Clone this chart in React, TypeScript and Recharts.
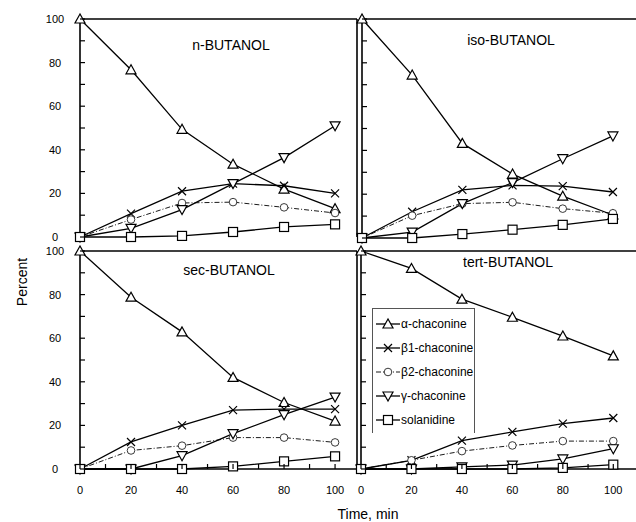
import React from 'react';
import { LineChart, Line, XAxis, YAxis, ReferenceLine, Legend } from 'recharts';

const times = [0, 20, 40, 60, 80, 100];
const axisTicks = [0, 10, 20, 30, 40, 50, 60, 70, 80, 90, 100];

// percent of each glycoside
const nButanol = {
  alpha: [100, 76.7, 49.4, 33.4, 22, 13],
  beta1: [0, 10.7, 21, 24.5, 23.5, 20],
  beta2: [0, 8, 15.6, 16, 13.6, 11],
  gamma: [0, 4, 12.6, 24.5, 36.4, 51],
  solanidine: [0, 0, 0.5, 2.3, 4.6, 5.8],
};
const isoButanol = {
  alpha: [100, 74.4, 43.2, 29.2, 19.1, 10.5],
  beta1: [0, 12, 22, 24, 23.7, 21],
  beta2: [0, 10.2, 15.7, 16.3, 13.4, 11.3],
  gamma: [0, 2.7, 15.7, 25.3, 36.2, 46.6],
  solanidine: [0, 0, 1.8, 3.8, 6, 8.7],
};
const secButanol = {
  alpha: [100, 78.8, 62.9, 42, 30.5, 22],
  beta1: [0, 12.4, 20, 27, 27.5, 27.5],
  beta2: [0, 8.5, 10.7, 14.4, 14.4, 12.2],
  gamma: [0, 0, 6.1, 16.2, 24.9, 33],
  solanidine: [0, 0, 0, 1.2, 3.5, 5.8],
};
const tertButanol = {
  alpha: [100, 92, 77.9, 69.6, 61, 51.9],
  beta1: [0, 4, 13, 17, 20.8, 23.4],
  beta2: [0, 4, 8.2, 10.8, 12.8, 12.8],
  gamma: [0, 0, 1, 1.8, 4.6, 9.3],
  solanidine: [0, 0, 0, 0, 0.5, 2],
};

const series = [
  { key: 'alpha', name: 'α-chaconine', marker: 'up' },
  { key: 'beta1', name: 'β1-chaconine', marker: 'cross' },
  { key: 'beta2', name: 'β2-chaconine', marker: 'circle' },
  { key: 'gamma', name: 'γ-chaconine', marker: 'down' },
  { key: 'solanidine', name: 'solanidine', marker: 'square' },
];

const toRows = (p: any) =>
  times.map((t, i) => {
    const row: any = { t };
    series.forEach((s) => (row[s.key] = p[s.key][i]));
    return row;
  });

const Marker = ({ kind, cx, cy }: any) => {
  const st = { fill: '#fff', stroke: '#000', strokeWidth: 1.2 };
  if (cx == null || cy == null) return null;
  switch (kind) {
    case 'up':
      return <polygon points={`${cx},${cy - 5} ${cx - 5},${cy + 4} ${cx + 5},${cy + 4}`} {...st} />;
    case 'down':
      return <polygon points={`${cx},${cy + 5} ${cx - 5},${cy - 4} ${cx + 5},${cy - 4}`} {...st} />;
    case 'circle':
      return <circle cx={cx} cy={cy} r={3.8} fill="#fff" stroke="#222" strokeWidth={0.9} />;
    case 'square':
      return <rect x={cx - 4.5} y={cy - 4.5} width={9} height={9} {...st} />;
    default:
      return (
        <path d={`M${cx - 4},${cy - 4}L${cx + 4},${cy + 4}M${cx - 4},${cy + 4}L${cx + 4},${cy - 4}`} stroke="#000" strokeWidth={1.2} />
      );
  }
};

const XTick = ({ x, y, payload, showLabel }: any) => (
  <g>
    <line x1={x} y1={y} x2={x} y2={y - 5} stroke="#000" strokeWidth={1.2} />
    {showLabel && payload.value % 20 === 0 && (
      <text x={x} y={y + 25} textAnchor="middle" fontSize={11} fill="#000">
        {payload.value}
      </text>
    )}
  </g>
);

const YTick = ({ x, y, payload, showLabel }: any) => (
  <g>
    <line x1={x} y1={y} x2={x + 5} y2={y} stroke="#000" strokeWidth={1.2} />
    {showLabel && payload.value % 20 === 0 && (
      <text x={x - 25} y={y + 4} textAnchor="middle" fontSize={11} fill="#000">
        {payload.value}
      </text>
    )}
  </g>
);

const LegendBox = () => (
  <div
    style={{
      width: 103,
      height: 125,
      boxSizing: 'border-box',
      border: '1px solid #555',
      borderBottom: 'none',
      paddingTop: 3,
      fontSize: 12,
      color: '#000',
      background: '#fff',
    }}
  >
    {series.map((s) => (
      <div key={s.key} style={{ display: 'flex', alignItems: 'center', height: 24 }}>
        <svg width={28} height={14}>
          <line
            x1={3}
            y1={7}
            x2={27}
            y2={7}
            stroke="#000"
            strokeWidth={s.marker === 'circle' ? 0.9 : 1.3}
            strokeDasharray={s.marker === 'circle' ? '5 2 1 2' : undefined}
          />
          <Marker kind={s.marker} cx={15} cy={7} />
        </svg>
        <span>{s.name}</span>
      </div>
    ))}
  </div>
);

const Panel = (props: any) => {
  const { left, top, width, height, margin, yAxisWidth, xAxisHeight, xMax, values, xLabels, yLabels, rightBorder, legend } = props;
  return (
    <div style={{ position: 'absolute', left, top }}>
      <LineChart width={width} height={height} data={toRows(values)} margin={margin}>
        <XAxis
          type="number"
          dataKey="t"
          domain={[0, xMax]}
          ticks={axisTicks}
          interval={0}
          height={xAxisHeight}
          tickSize={0}
          tickMargin={0}
          axisLine={{ stroke: '#000', strokeWidth: 1.6 }}
          tick={(p: any) => <XTick {...p} showLabel={xLabels} />}
        />
        <YAxis
          type="number"
          domain={[0, 100]}
          ticks={axisTicks}
          interval={0}
          width={yAxisWidth}
          tickSize={0}
          tickMargin={0}
          axisLine={{ stroke: '#000', strokeWidth: 1.6 }}
          tick={(p: any) => <YTick {...p} showLabel={yLabels} />}
        />
        <ReferenceLine y={100} stroke="#000" strokeWidth={1.6} />
        {rightBorder && <ReferenceLine x={xMax} stroke="#000" strokeWidth={1.6} />}
        {series.map((s) => (
          <Line
            key={s.key}
            type="linear"
            dataKey={s.key}
            name={s.name}
            stroke="#000"
            strokeWidth={s.marker === 'circle' ? 0.9 : 1.3}
            strokeDasharray={s.marker === 'circle' ? '5 2 1 2' : undefined}
            dot={(p: any) => <Marker key={`${s.key}-${p.index}`} kind={s.marker} cx={p.cx} cy={p.cy} />}
            activeDot={false}
            isAnimationActive={false}
          />
        ))}
        {legend && (
          <Legend
            layout="vertical"
            align="center"
            verticalAlign="middle"
            content={() => <LegendBox />}
            wrapperStyle={{ left: 32, top: 68, width: 103, height: 125 }}
          />
        )}
      </LineChart>
    </div>
  );
};

const titleStyle = (x: number, y: number): React.CSSProperties => ({
  position: 'absolute',
  left: x,
  top: y,
  transform: 'translate(-50%, -50%)',
  fontSize: 14,
  whiteSpace: 'nowrap',
});

export default function App() {
  return (
    <div
      style={{
        position: 'absolute',
        left: 0,
        top: 0,
        width: 636,
        height: 522,
        background: '#fff',
        overflow: 'hidden',
        fontFamily: '"Liberation Sans", Arial, sans-serif',
        color: '#000',
      }}
    >
      <Panel
        left={0}
        top={0}
        width={360}
        height={250}
        margin={{ top: 19, right: 3, bottom: 13, left: 0 }}
        yAxisWidth={80}
        xAxisHeight={0}
        xMax={108.6}
        values={nButanol}
        xLabels={false}
        yLabels
        rightBorder
      />
      <Panel
        left={340}
        top={0}
        width={296}
        height={250}
        margin={{ top: 19, right: 0, bottom: 12, left: 0 }}
        yAxisWidth={22}
        xAxisHeight={0}
        xMax={109.2}
        values={isoButanol}
        xLabels={false}
        yLabels={false}
      />
      <Panel
        left={0}
        top={240}
        width={360}
        height={270}
        margin={{ top: 11, right: 3, bottom: 0, left: 0 }}
        yAxisWidth={80}
        xAxisHeight={41}
        xMax={108.6}
        values={secButanol}
        xLabels
        yLabels
        rightBorder
      />
      <Panel
        left={340}
        top={240}
        width={296}
        height={270}
        margin={{ top: 11, right: 0, bottom: 0, left: 0 }}
        yAxisWidth={21}
        xAxisHeight={41}
        xMax={109}
        values={tertButanol}
        xLabels
        yLabels={false}
        legend
      />
      <div style={titleStyle(231, 45)}>n-BUTANOL</div>
      <div style={titleStyle(511, 40)}>iso-BUTANOL</div>
      <div style={titleStyle(229, 270)}>sec-BUTANOL</div>
      <div style={titleStyle(508, 262)}>tert-BUTANOL</div>
      <div style={{ ...titleStyle(22, 282), transform: 'translate(-50%, -50%) rotate(-90deg)' }}>Percent</div>
      <div style={titleStyle(368, 514)}>Time, min</div>
    </div>
  );
}
